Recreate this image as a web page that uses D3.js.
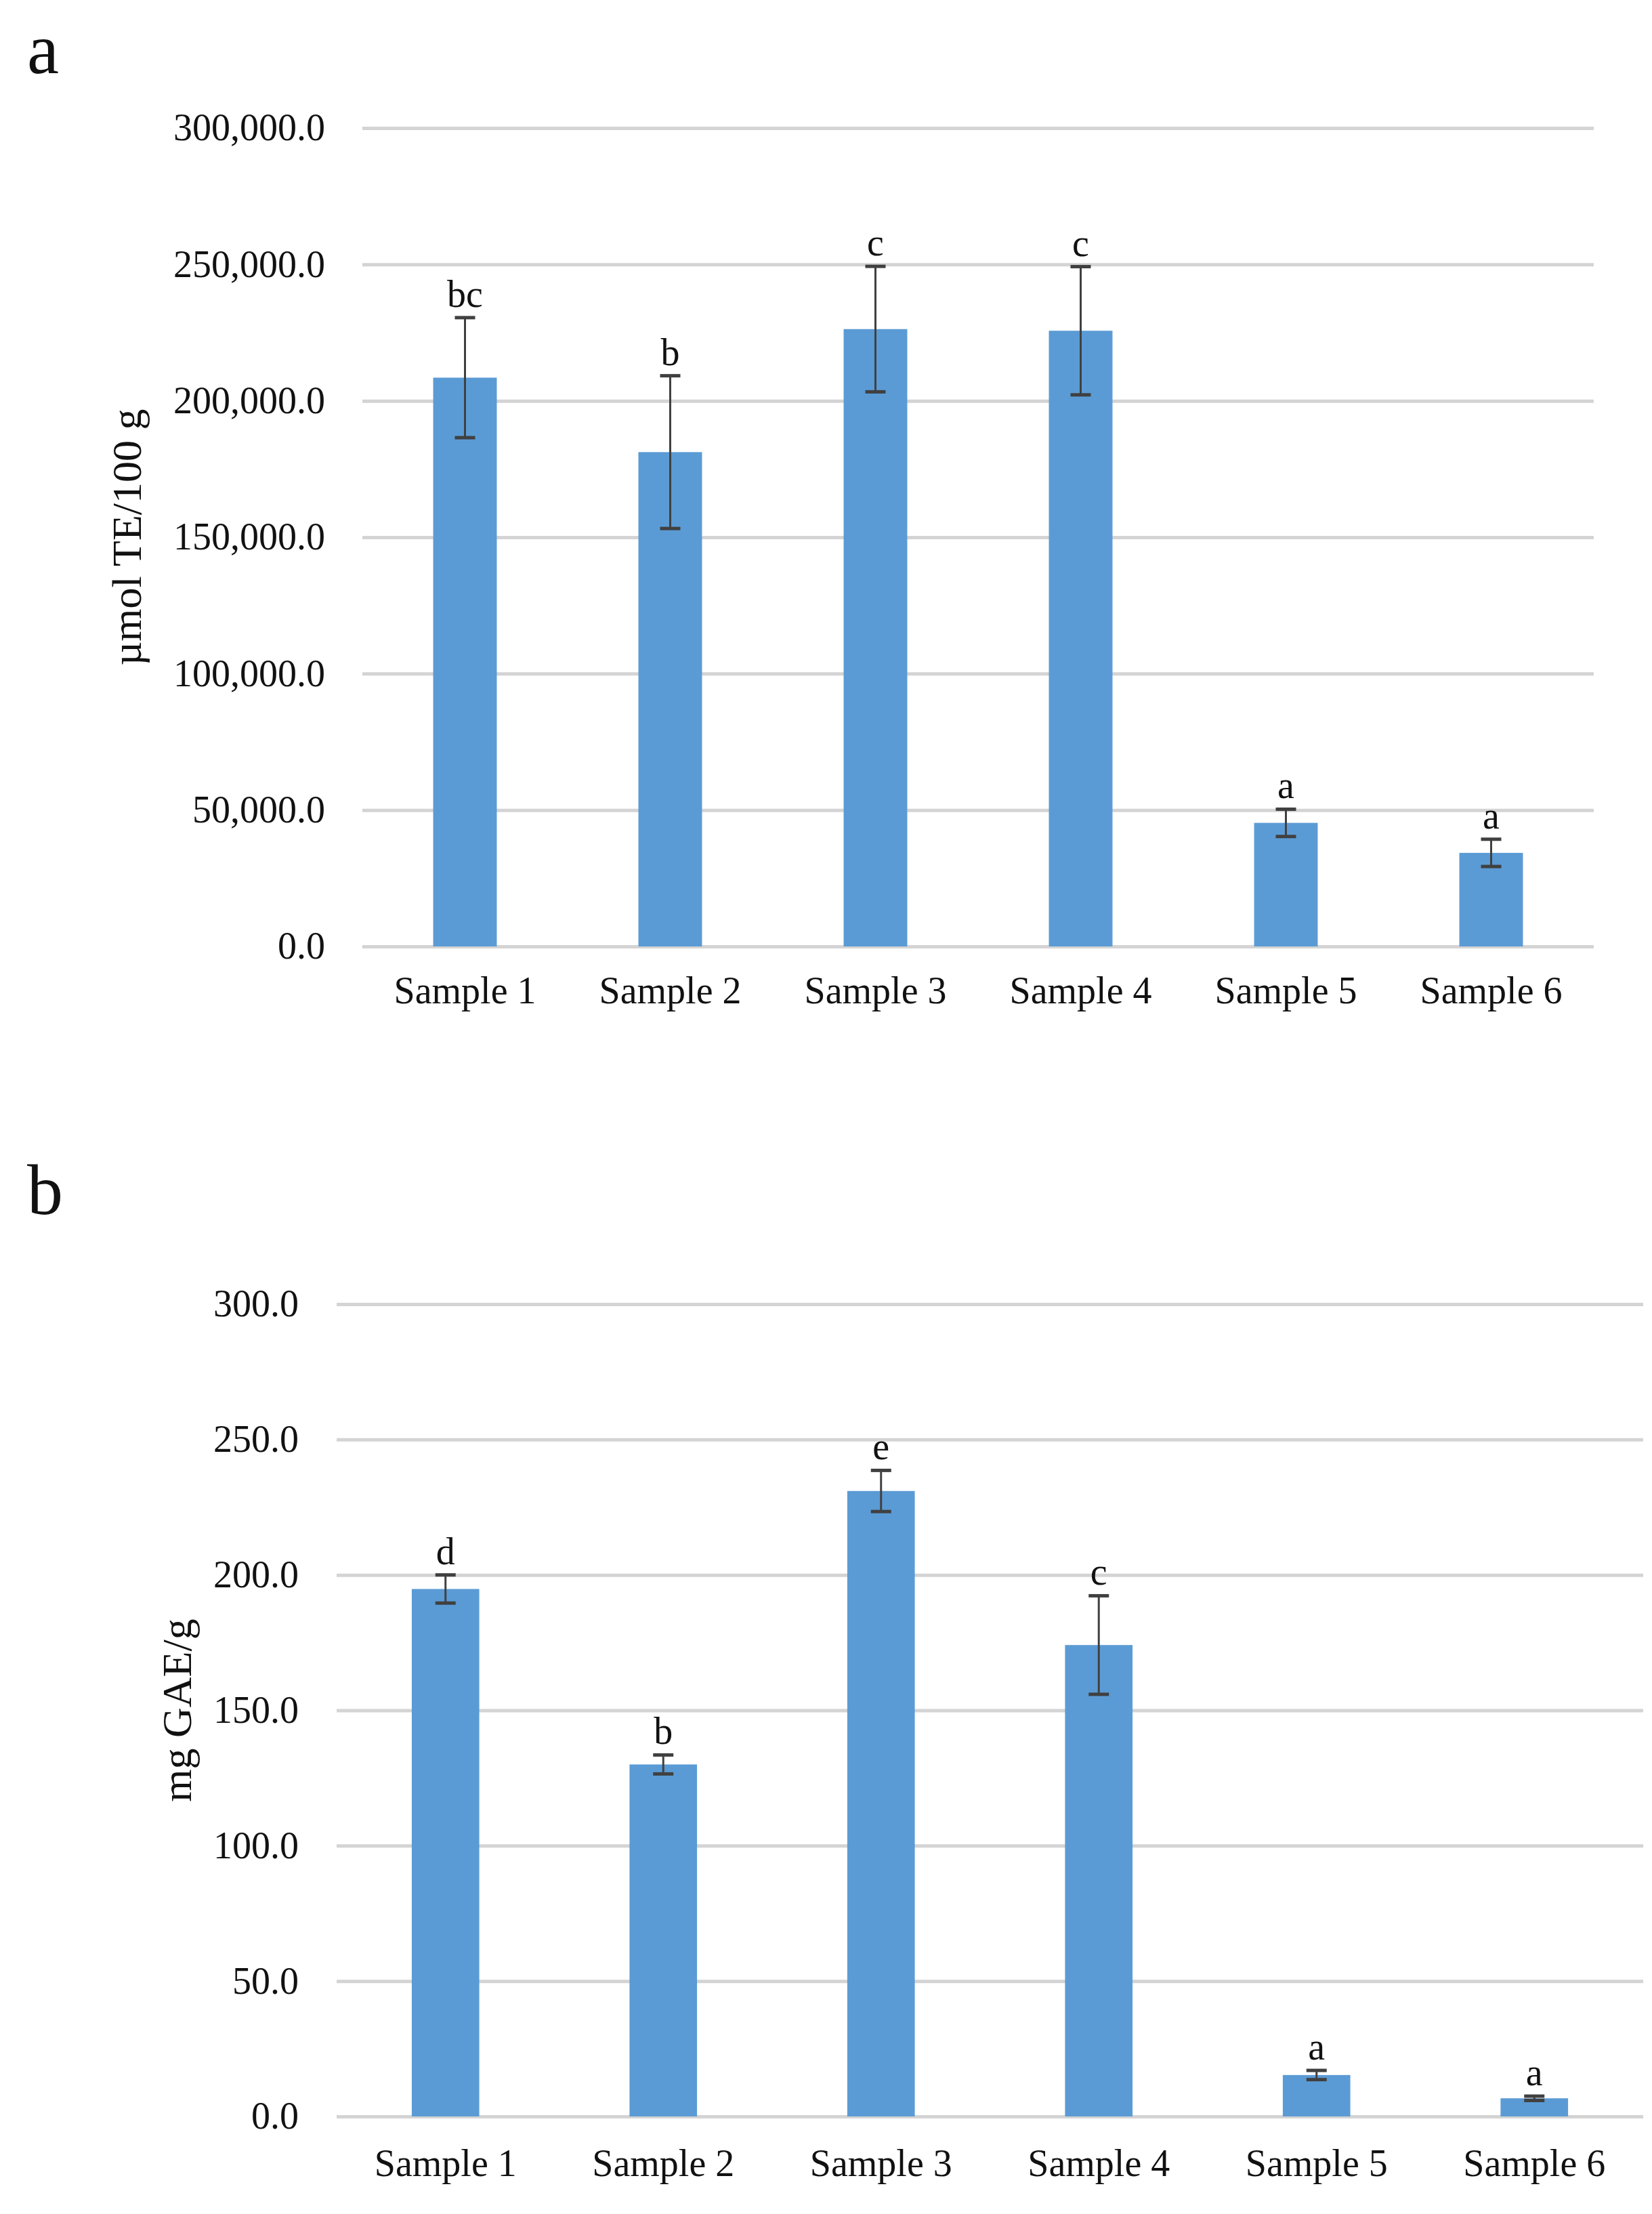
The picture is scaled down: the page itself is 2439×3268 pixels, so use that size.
<!DOCTYPE html>
<html>
<head>
<meta charset="utf-8">
<script src="https://cdn.jsdelivr.net/npm/d3@7"></script>
<style>
  body { margin: 0; background: #fff; }
  svg { display: block; }
  text { font-family: "Liberation Serif", "Times New Roman", serif; fill: #111; }
</style>
</head>
<body>
<script>
// sample names along the x axis (same for both panels)
const categories = ["Sample 1", "Sample 2", "Sample 3", "Sample 4", "Sample 5", "Sample 6"];

// panel a: antioxidant capacity, µmol TE/100 g
const teacValues = [208500, 181200, 226300, 225700, 45300, 34300];
const teacErrors = [22000, 28000, 23000, 23500, 5000, 5000];
const teacLetters = ["bc", "b", "c", "c", "a", "a"];
const teacTicks = [0, 50000, 100000, 150000, 200000, 250000, 300000];

// panel b: total phenolics, mg GAE/g
const tpcValues = [194.8, 130.0, 231.0, 174.1, 15.3, 6.7];
const tpcErrors = [5.2, 3.5, 7.6, 18.2, 1.7, 0.8];
const tpcLetters = ["d", "b", "e", "c", "a", "a"];
const tpcTicks = [0, 50, 100, 150, 200, 250, 300];

const W = 2439, H = 3268;
const FS = 56;

const svg = d3.select("body").append("svg")
  .attr("width", W)
  .attr("height", H);

svg.append("rect").attr("width", W).attr("height", H).attr("fill", "#fff");

const fmt = d3.format(",.1f");

function drawPanel(opts) {
  const g = svg.append("g");

  const x = d3.scaleBand()
    .domain(categories)
    .range([opts.x0, opts.x1])
    .paddingInner(0.69)
    .paddingOuter(0.345);

  const y = d3.scaleLinear()
    .domain([0, d3.max(opts.ticks)])
    .range([opts.yBottom, opts.yTop]);

  // gridlines + tick labels
  const yAxis = g.append("g")
    .attr("transform", `translate(${opts.x0},0)`)
    .call(d3.axisLeft(y)
      .tickValues(opts.ticks)
      .tickFormat(fmt)
      .tickSize(-(opts.x1 - opts.x0))
      .tickPadding(opts.tickGap));
  yAxis.select(".domain").remove();
  yAxis.selectAll(".tick line")
    .attr("stroke", "#d4d4d4")
    .attr("stroke-width", 5);
  yAxis.selectAll(".tick text")
    .attr("font-size", FS)
    .attr("font-family", "Liberation Serif")
    .attr("fill", "#111");

  // category labels
  const xAxis = g.append("g")
    .attr("transform", `translate(0,${opts.yBottom})`)
    .call(d3.axisBottom(x).tickSize(0).tickPadding(opts.labelGap - 0.71 * FS));
  xAxis.select(".domain").remove();
  xAxis.selectAll(".tick text")
    .attr("font-size", FS)
    .attr("font-family", "Liberation Serif")
    .attr("fill", "#111");

  const rows = categories.map((c, i) => ({
    cat: c, v: opts.values[i], e: opts.errors[i], letter: opts.letters[i]
  }));

  // bars
  g.selectAll(".bar")
    .data(rows)
    .enter().append("rect")
    .attr("class", "bar")
    .attr("x", d => x(d.cat))
    .attr("width", x.bandwidth())
    .attr("y", d => y(d.v))
    .attr("height", d => y(0) - y(d.v))
    .attr("fill", "#5b9bd5");

  // error bars
  const cap = 30;
  const eb = g.selectAll(".err")
    .data(rows)
    .enter().append("g")
    .attr("class", "err")
    .attr("stroke", "#404040");
  eb.append("line")
    .attr("x1", d => x(d.cat) + x.bandwidth() / 2)
    .attr("x2", d => x(d.cat) + x.bandwidth() / 2)
    .attr("y1", d => y(d.v + d.e))
    .attr("y2", d => y(d.v - d.e))
    .attr("stroke-width", 3);
  eb.append("line")
    .attr("x1", d => x(d.cat) + x.bandwidth() / 2 - cap / 2)
    .attr("x2", d => x(d.cat) + x.bandwidth() / 2 + cap / 2)
    .attr("y1", d => y(d.v + d.e))
    .attr("y2", d => y(d.v + d.e))
    .attr("stroke-width", 5);
  eb.append("line")
    .attr("x1", d => x(d.cat) + x.bandwidth() / 2 - cap / 2)
    .attr("x2", d => x(d.cat) + x.bandwidth() / 2 + cap / 2)
    .attr("y1", d => y(d.v - d.e))
    .attr("y2", d => y(d.v - d.e))
    .attr("stroke-width", 5);

  // significance letters
  g.selectAll(".sig")
    .data(rows)
    .enter().append("text")
    .attr("class", "sig")
    .attr("x", d => x(d.cat) + x.bandwidth() / 2)
    .attr("y", d => y(d.v + d.e) - 16)
    .attr("text-anchor", "middle")
    .attr("font-size", FS)
    .text(d => d.letter);

  // y axis title
  g.append("text")
    .attr("transform", `translate(${opts.titleX},${(opts.yTop + opts.yBottom) / 2}) rotate(-90)`)
    .attr("text-anchor", "middle")
    .attr("font-size", 62)
    .text(opts.title);

  // panel letter
  g.append("text")
    .attr("x", 40)
    .attr("y", opts.panelY)
    .attr("font-size", 106)
    .text(opts.panel);
}

drawPanel({
  panel: "a", panelY: 108,
  title: "\u00b5mol TE/100 g", titleX: 208,
  values: teacValues, errors: teacErrors, letters: teacLetters, ticks: teacTicks,
  x0: 535, x1: 2353, yTop: 189, yBottom: 1397,
  tickGap: 55, labelGap: 84
});

drawPanel({
  panel: "b", panelY: 1792,
  title: "mg GAE/g", titleX: 282,
  values: tpcValues, errors: tpcErrors, letters: tpcLetters, ticks: tpcTicks,
  x0: 497, x1: 2426, yTop: 1925, yBottom: 3124,
  tickGap: 56, labelGap: 88
});
</script>
</body>
</html>
